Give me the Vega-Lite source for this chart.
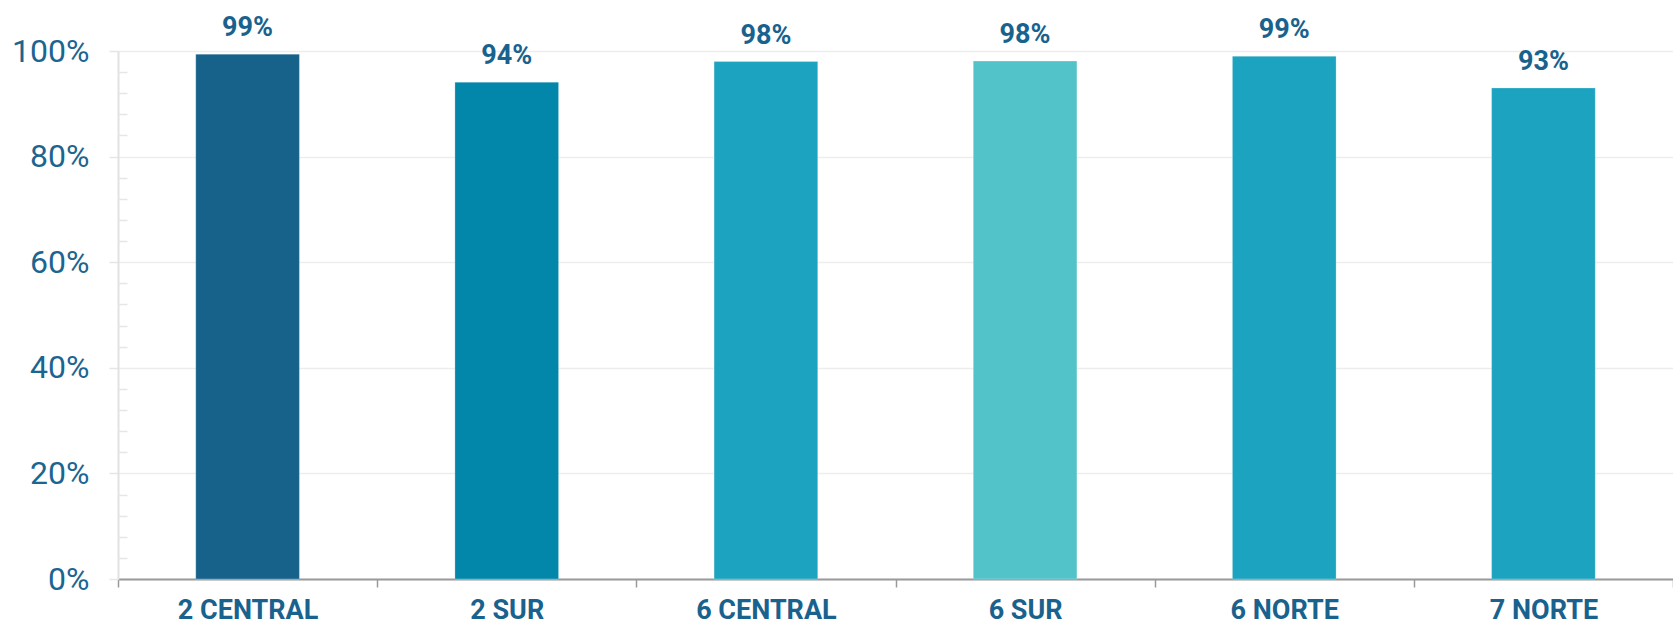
{
  "$schema": "https://vega.github.io/schema/vega-lite/v6.json",
  "width": 1555,
  "height": 528,
  "autosize": {"type": "none"},
  "padding": {"left": 118, "top": 51, "right": 0, "bottom": 46},
  "background": "#ffffff",
  "config": {"view": {"stroke": null}, "font": "Roboto"},
  "data": {
    "values": [
      {"zona": "2 CENTRAL", "valor": 99.4, "label": "99%", "color": "#17628b"},
      {"zona": "2 SUR", "valor": 94.1, "label": "94%", "color": "#0287ab"},
      {"zona": "6 CENTRAL", "valor": 98.0, "label": "98%", "color": "#1ca3bf"},
      {"zona": "6 SUR", "valor": 98.1, "label": "98%", "color": "#53c3ca"},
      {"zona": "6 NORTE", "valor": 99.0, "label": "99%", "color": "#1ca3bf"},
      {"zona": "7 NORTE", "valor": 93.0, "label": "93%", "color": "#1ca3bf"}
    ]
  },
  "encoding": {
    "x": {
      "field": "zona",
      "type": "nominal",
      "sort": null,
      "scale": {"paddingInner": 0, "paddingOuter": 0},
      "axis": {
        "title": null,
        "labelAngle": 0,
        "labelFont": "Roboto",
        "labelFontWeight": "bold",
        "labelFontSize": 27,
        "labelColor": "#19628e",
        "labelPadding": 10,
        "tickBand": "extent",
        "tickColor": "#9a9a9a",
        "tickSize": 8,
        "tickWidth": 1.5,
        "domainColor": "#9a9a9a",
        "domainWidth": 2,
        "grid": false
      }
    }
  },
  "layer": [
    {
      "mark": {"type": "bar", "width": {"band": 0.4}, "stroke": "#ffffff", "strokeOpacity": 0.25, "strokeWidth": 1},
      "encoding": {
        "y": {
          "field": "valor",
          "type": "quantitative",
          "scale": {"domain": [0, 100], "nice": false},
          "axis": {
            "title": null,
            "values": [0, 20, 40, 60, 80, 100],
            "labelExpr": "datum.value + '%'",
            "labelFont": "Roboto",
            "labelFontSize": 32,
            "labelColor": "#1b6591",
            "labelPadding": 20,
            "tickSize": 9,
            "tickColor": "#e6e6e6",
            "tickWidth": 1.5,
            "domainColor": "#e2e2e2",
            "domainWidth": 2,
            "grid": true,
            "gridColor": "#ededed",
            "gridWidth": 1.5
          }
        },
        "color": {"field": "color", "type": "nominal", "scale": null, "legend": null}
      }
    },
    {
      "mark": {"type": "text", "dy": -18, "baseline": "alphabetic", "font": "Roboto", "fontWeight": "bold", "fontSize": 27, "color": "#19628e"},
      "encoding": {
        "y": {"field": "valor", "type": "quantitative", "axis": null},
        "text": {"field": "label"}
      }
    },
    {
      "mark": {"type": "rule", "opacity": 0},
      "encoding": {
        "y": {
          "field": "valor",
          "type": "quantitative",
          "axis": {
            "orient": "left",
            "title": null,
            "values": [4, 8, 12, 16, 24, 28, 32, 36, 44, 48, 52, 56, 64, 68, 72, 76, 84, 88, 92, 96],
            "labels": false,
            "domain": false,
            "grid": false,
            "tickSize": -9,
            "tickColor": "#e6e6e6",
            "tickWidth": 1.5
          }
        }
      }
    }
  ],
  "resolve": {"axis": {"y": "independent"}}
}
